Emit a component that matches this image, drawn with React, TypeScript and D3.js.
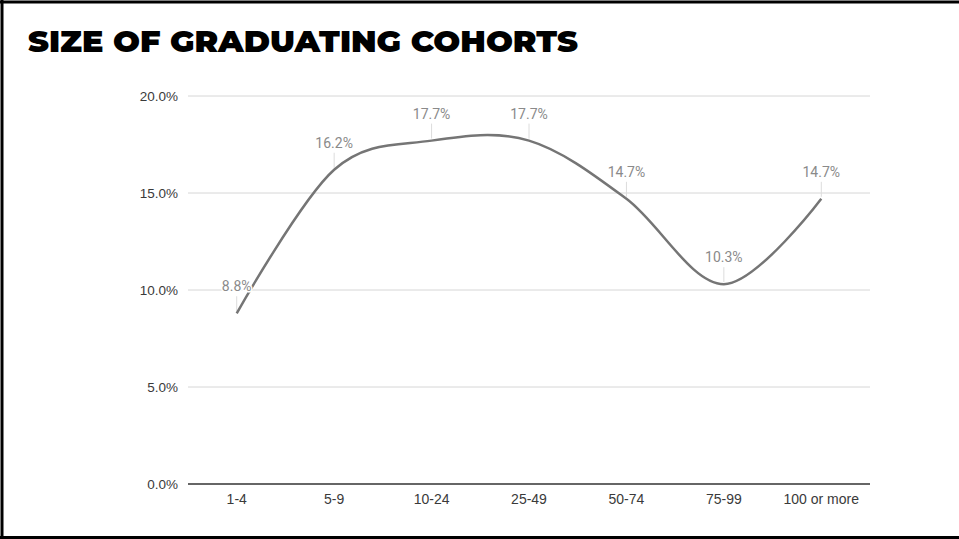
import React from "react";
import * as d3 from "d3";

const categories: string[] = ["1-4", "5-9", "10-24", "25-49", "50-74", "75-99", "100 or more"];
const values: number[] = [8.8, 16.2, 17.7, 17.7, 14.7, 10.3, 14.7];
const yTicks: number[] = [0, 5, 10, 15, 20];
const title = "SIZE OF GRADUATING COHORTS";

export default function App() {
  const W = 959;
  const H = 539;
  const left = 188;
  const right = 870;
  const top = 96;
  const bottom = 484;

  const x = d3.scaleBand<string>().domain(categories).range([left, right]).padding(0);
  const y = d3.scaleLinear().domain([0, 20]).range([bottom, top]);
  const cx = (c: string) => (x(c) as number) + x.bandwidth() / 2;

  const line = d3
    .line<number>()
    .x((_, i) => cx(categories[i]))
    .y((d) => y(d))
    .curve(d3.curveCardinal.tension(0));

  const axisFont = "'Liberation Sans', Arial, sans-serif";
  const labelFont = "Roboto, 'Liberation Sans', sans-serif";

  return (
    <svg
      width={W}
      height={H}
      style={{ position: "absolute", left: 0, top: 0, background: "#fff" }}
    >
      <rect x={0} y={0} width={W} height={H} fill="#fff" />
      {/* frame */}
      <line x1={2} x2={2} y1={0} y2={H} stroke="#000" strokeWidth={3} />
      <line x1={0} x2={W} y1={2} y2={2} stroke="#000" strokeWidth={3} />
      <line x1={0} x2={W} y1={537.5} y2={537.5} stroke="#000" strokeWidth={3} />

      <text
        x={28}
        y={52}
        fontFamily="Montserrat, Lato, 'Noto Sans', sans-serif"
        fontWeight={900}
        fontSize={30}
        fill="#000"
        textLength={550}
        lengthAdjust="spacingAndGlyphs"
      >
        {title}
      </text>

      {/* gridlines */}
      {yTicks.map((t) => (
        <g key={t}>
          {t !== 0 && (
            <line x1={left} x2={right} y1={y(t)} y2={y(t)} stroke="#d6d6d6" strokeWidth={1} />
          )}
          <text
            x={178}
            y={y(t)}
            dy="0.35em"
            textAnchor="end"
            fontFamily={axisFont}
            fontSize={13.5}
            fill="#3a3a3a"
          >
            {t.toFixed(1) + "%"}
          </text>
        </g>
      ))}

      {/* x labels */}
      {categories.map((c) => (
        <text
          key={c}
          x={cx(c)}
          y={504}
          textAnchor="middle"
          fontFamily={axisFont}
          fontSize={14}
          fill="#3a3a3a"
        >
          {c}
        </text>
      ))}

      {/* leader lines */}
      {values.map((v, i) => {
        const px = cx(categories[i]);
        const py = y(v);
        return (
          <line key={i} x1={px} x2={px} y1={py - 17} y2={py - 2} stroke="#dcdcdc" strokeWidth={1} />
        );
      })}

      <path d={line(values) || ""} fill="none" stroke="#757575" strokeWidth={2.5} />

      {values.map((v, i) => {
        const px = cx(categories[i]);
        const py = y(v);
        return (
          <text
            key={i}
            x={px}
            y={py - 27}
            dy="0.35em"
            textAnchor="middle"
            fontFamily={labelFont}
            fontSize={14}
            fill="#8a8a8a"
            stroke="#fff"
            strokeWidth={3}
            paintOrder="stroke"
          >
            {v.toFixed(1) + "%"}
          </text>
        );
      })}

      {/* baseline */}
      <line x1={left} x2={right} y1={bottom} y2={bottom} stroke="#333" strokeWidth={1.5} />
    </svg>
  );
}
